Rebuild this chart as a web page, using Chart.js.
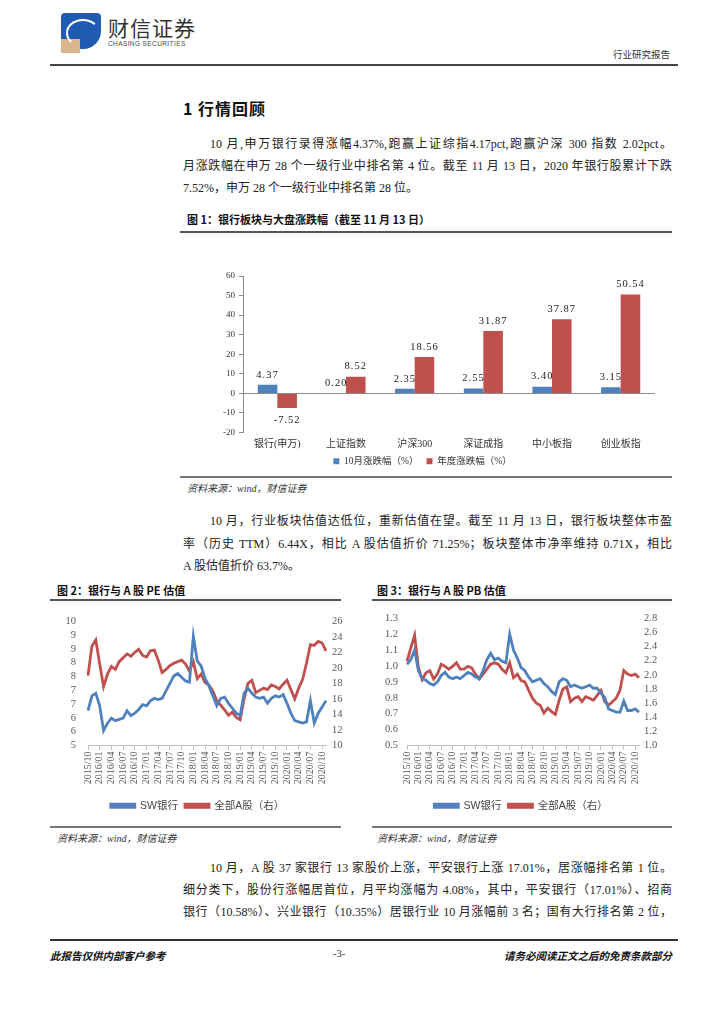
<!DOCTYPE html>
<html>
<head>
<meta charset="utf-8">
<script src="https://cdn.jsdelivr.net/npm/chart.js@4.4.0/dist/chart.umd.min.js"></script>
<style>
  body { margin: 0; background: #fff; }
  #page { position: relative; width: 724px; height: 1024px; overflow: hidden;
          font-family: "Liberation Serif", "Noto Sans CJK SC", serif; color: #222; }
  .t { position: absolute; white-space: nowrap; }
  .rule { position: absolute; }
  .p { position: absolute; font-size: 12px; height: 16px; line-height: 16px;
       text-align: justify; text-align-last: justify; }
  .p.last { text-align-last: left; }
  .cap { position: absolute; white-space: nowrap; font-family: "Noto Sans CJK SC", sans-serif;
         font-weight: bold; font-size: 11px; color: #111; }
  .src { position: absolute; white-space: nowrap; font-style: italic; font-size: 10px; color: #333; }
  canvas { position: absolute; }
</style>
</head>
<body>
<div id="page">
  <!-- header -->
  <div style="position:absolute;left:61px;top:13px;width:40px;height:36px;background:#1f5bb0;border-radius:4px 4px 18px 4px;"></div>
  <div style="position:absolute;left:61px;top:39px;width:19px;height:14px;background:#d9b48f;"></div>
  <div style="position:absolute;left:66px;top:19px;width:30px;height:24px;border-radius:50%;border:2px solid #fff;border-color:#fff transparent transparent #fff;"></div>
  <div class="t" style="left:108px;top:12px;font-family:'Noto Sans CJK SC';font-size:21px;color:#333;letter-spacing:1px;">财信证券</div>
  <div class="t" style="left:108px;top:40px;font-family:'Liberation Sans';font-size:6.5px;color:#444;letter-spacing:0.4px;">CHASING SECURITIES</div>
  <div class="t" style="left:613px;top:47px;font-family:'Noto Sans CJK SC';font-size:9.5px;color:#333;">行业研究报告</div>
  <div class="rule" style="left:50px;top:64px;width:628px;height:2px;background:#444;"></div>

  <div class="t" style="left:183px;top:96px;font-family:'Noto Sans CJK SC';font-weight:bold;font-size:16px;color:#111;letter-spacing:1px;">1 行情回顾</div>

  <div class="p" style="left:210px;top:136px;width:462px;">10 月,申万银行录得涨幅4.37%,跑赢上证综指4.17pct,跑赢沪深 300 指数 2.02pct。</div>
  <div class="p" style="left:183px;top:158px;width:489px;">月涨跌幅在申万 28 个一级行业中排名第 4 位。截至 11 月 13 日，2020 年银行股累计下跌</div>
  <div class="p last" style="left:183px;top:180px;width:489px;">7.52%，申万 28 个一级行业中排名第 28 位。</div>

  <div class="cap" style="left:187px;top:211px;">图 1：银行板块与大盘涨跌幅（截至 11 月 13 日）</div>
  <div class="rule" style="left:180px;top:231px;width:492px;height:2px;background:#555;"></div>
  <canvas id="barChart" width="490" height="218" style="left:190px;top:258px;"></canvas>
  <div class="rule" style="left:180px;top:476px;width:492px;height:2px;background:#777;"></div>
  <div class="src" style="left:187px;top:480px;">资料来源：wind，财信证券</div>

  <div class="p" style="left:210px;top:513px;width:462px;">10 月，行业板块估值达低位，重新估值在望。截至 11 月 13 日，银行板块整体市盈</div>
  <div class="p" style="left:183px;top:536px;width:489px;">率（历史 TTM）6.44X，相比 A 股估值折价 71.25%；板块整体市净率维持 0.71X，相比</div>
  <div class="p last" style="left:183px;top:558px;width:489px;">A 股估值折价 63.7%。</div>

  <div class="cap" style="left:57px;top:582px;">图 2：银行与 A 股 PE 估值</div>
  <div class="cap" style="left:377px;top:582px;">图 3：银行与 A 股 PB 估值</div>
  <div class="rule" style="left:50px;top:599px;width:291px;height:2px;background:#555;"></div>
  <div class="rule" style="left:372px;top:599px;width:300px;height:2px;background:#555;"></div>
  <canvas id="peChart" width="295" height="222" style="left:50px;top:603px;"></canvas>
  <canvas id="pbChart" width="302" height="222" style="left:370px;top:603px;"></canvas>
  <div class="rule" style="left:50px;top:826px;width:291px;height:2px;background:#777;"></div>
  <div class="rule" style="left:372px;top:826px;width:300px;height:2px;background:#777;"></div>
  <div class="src" style="left:57px;top:830px;">资料来源：wind，财信证券</div>
  <div class="src" style="left:377px;top:830px;">资料来源：wind，财信证券</div>

  <div class="p" style="left:210px;top:860px;width:462px;">10 月，A 股 37 家银行 13 家股价上涨，平安银行上涨 17.01%，居涨幅排名第 1 位。</div>
  <div class="p" style="left:183px;top:882px;width:489px;">细分类下，股份行涨幅居首位，月平均涨幅为 4.08%，其中，平安银行（17.01%）、招商</div>
  <div class="p" style="left:183px;top:904px;width:489px;">银行（10.58%）、兴业银行（10.35%）居银行业 10 月涨幅前 3 名；国有大行排名第 2 位，</div>

  <div class="rule" style="left:50px;top:939px;width:628px;height:2px;background:#333;"></div>
  <div class="t" style="left:50px;top:948px;font-family:'Noto Sans CJK SC';font-weight:bold;font-style:italic;font-size:10.5px;color:#111;">此报告仅供内部客户参考</div>
  <div class="t" style="left:333px;top:948px;font-size:10.5px;color:#333;">-3-</div>
  <div class="t" style="right:52px;top:948px;font-family:'Noto Sans CJK SC';font-weight:bold;font-style:italic;font-size:10.5px;color:#111;">请务必阅读正文之后的免责条款部分</div>
</div>

<script>
// figure 1: 银行板块与大盘涨跌幅
const barCategories = ['银行(申万)', '上证指数', '沪深300', '深证成指', '中小板指', '创业板指'];
const octChange = [4.37, 0.20, 2.35, 2.55, 3.40, 3.15];
const yearChange = [-7.52, 8.52, 18.56, 31.87, 37.87, 50.54];

// figures 2 and 3: monthly readings 2015/10 - 2020/11
const months = [
  '2015/10', '2015/11', '2015/12',
  '2016/01', '2016/02', '2016/03', '2016/04', '2016/05', '2016/06', '2016/07', '2016/08', '2016/09', '2016/10', '2016/11', '2016/12',
  '2017/01', '2017/02', '2017/03', '2017/04', '2017/05', '2017/06', '2017/07', '2017/08', '2017/09', '2017/10', '2017/11', '2017/12',
  '2018/01', '2018/02', '2018/03', '2018/04', '2018/05', '2018/06', '2018/07', '2018/08', '2018/09', '2018/10', '2018/11', '2018/12',
  '2019/01', '2019/02', '2019/03', '2019/04', '2019/05', '2019/06', '2019/07', '2019/08', '2019/09', '2019/10', '2019/11', '2019/12',
  '2020/01', '2020/02', '2020/03', '2020/04', '2020/05', '2020/06', '2020/07', '2020/08', '2020/09', '2020/10', '2020/11'
];
const peBank = [
  6.4, 7.0, 7.1,
  6.6, 5.6, 5.9, 6.1, 6.0, 6.05, 6.1, 6.4, 6.2, 6.3, 6.45, 6.65,
  6.6, 6.8, 6.9, 6.85, 6.9, 7.2, 7.5, 7.8, 7.9, 7.75, 7.6, 7.55,
  9.4, 8.4, 8.2, 7.7, 7.4, 7.0, 6.6, 6.9, 6.95, 6.7, 6.5, 6.3,
  6.2, 7.1, 7.3, 7.1, 6.95, 6.9, 6.95, 6.7, 6.9, 7.0, 6.95, 7.05,
  6.7, 6.3, 6.0, 5.95, 5.9, 5.95, 6.8, 5.9, 6.3, 6.55, 6.8
];
const peAll = [
  19.0, 22.8, 23.6,
  20.5, 17.6, 19.2, 20.2, 19.8, 20.8, 21.3, 21.8, 21.5, 22.0, 22.4, 21.6,
  21.4, 22.2, 22.3, 21.0, 19.4, 19.8, 20.3, 20.6, 20.8, 21.0, 20.5, 19.6,
  20.8, 18.6, 19.2, 18.1, 17.8, 17.0, 15.8, 15.2, 14.6, 13.9, 14.3, 13.6,
  13.3, 16.0, 18.0, 18.4, 16.8, 17.1, 17.4, 17.2, 17.8, 17.6, 17.3, 17.9,
  18.4, 17.2, 16.0, 17.4, 18.5, 20.6, 23.0, 22.9, 23.4, 23.2, 22.2
];
const pbBank = [
  1.01, 1.04, 1.10,
  0.97, 0.92, 0.91, 0.89, 0.88, 0.90, 0.94, 0.96, 0.93, 0.92, 0.93, 0.92,
  0.94, 0.96, 0.95, 0.93, 0.92, 0.97, 1.04, 1.08, 1.04, 1.05, 1.03, 1.02,
  1.20, 1.10, 1.05, 0.99, 0.97, 0.93, 0.90, 0.91, 0.92, 0.89, 0.87, 0.84,
  0.82, 0.90, 0.92, 0.91, 0.87, 0.88, 0.87, 0.86, 0.87, 0.88, 0.86, 0.86,
  0.83, 0.80, 0.73, 0.72, 0.71, 0.71, 0.78, 0.72, 0.72, 0.73, 0.71
];
const pbAll = [
  2.19, 2.38, 2.56,
  2.10, 1.93, 2.03, 2.06, 1.94, 2.01, 2.15, 2.12, 2.08, 2.12, 2.17, 2.08,
  2.08, 2.12, 2.10, 2.01, 1.94, 2.01, 2.08, 2.15, 2.17, 2.15, 2.08, 2.03,
  2.17, 1.96, 2.01, 1.92, 1.90, 1.78, 1.67, 1.60, 1.57, 1.46, 1.53, 1.48,
  1.44, 1.64, 1.80, 1.83, 1.62, 1.67, 1.69, 1.62, 1.69, 1.67, 1.64, 1.71,
  1.78, 1.62, 1.57, 1.62, 1.67, 1.78, 2.06, 2.01, 1.99, 2.01, 1.96
];

const BLUE = '#4F81BD';
const RED = '#C0504D';
const SERIF = '"Liberation Serif", "Noto Sans CJK SC", serif';

// value labels over / under each bar
const barValueLabels = {
  id: 'barValueLabels',
  afterDatasetsDraw(chart) {
    const ctx = chart.ctx;
    ctx.save();
    ctx.font = '10.5px "Liberation Serif"';
    ctx.letterSpacing = '1px';
    ctx.fillStyle = '#222';
    ctx.textAlign = 'center';
    ctx.textBaseline = 'middle';
    chart.data.datasets.forEach((ds, i) => {
      chart.getDatasetMeta(i).data.forEach((bar, j) => {
        const v = ds.data[j];
        const y = v >= 0 ? bar.y - 10 : bar.y + 12;
        ctx.fillText(v.toFixed(2), bar.x, y);
      });
    });
    ctx.restore();
  }
};

new Chart(document.getElementById('barChart'), {
  type: 'bar',
  data: {
    labels: barCategories,
    datasets: [
      { label: '10月涨跌幅（%）', data: octChange, backgroundColor: BLUE },
      { label: '年度涨跌幅（%）', data: yearChange, backgroundColor: RED }
    ]
  },
  options: {
    responsive: false,
    animation: false,
    categoryPercentage: 0.57,
    barPercentage: 1.0,
    layout: { padding: { top: 18, right: 25, left: 0, bottom: 0 } },
    plugins: {
      legend: {
        position: 'bottom',
        labels: { boxWidth: 6, boxHeight: 6, padding: 8, color: '#333',
                  font: { size: 9.5, family: SERIF } }
      },
      tooltip: { enabled: false }
    },
    scales: {
      x: {
        grid: { display: false, drawTicks: false },
        border: { display: false },
        ticks: { color: '#333', font: { size: 10, family: SERIF }, padding: 6 },
        afterFit(scale) { scale.height = 16; }
      },
      y: {
        min: -20, max: 60,
        ticks: { stepSize: 10, color: '#333', font: { size: 9, family: SERIF }, padding: 4 },
        grid: {
          color: ctx => (ctx.tick && ctx.tick.value === 0 ? '#8c8c8c' : 'rgba(0,0,0,0)'),
          tickColor: '#8c8c8c', tickLength: 4, lineWidth: 1
        },
        border: { color: '#8c8c8c' },
        afterFit(scale) { scale.width = 53; }
      }
    }
  },
  plugins: [barValueLabels]
});

// figures 2 and 3 share the same layout
function valuationChart(id, bank, all, left, right, leftW, rightW, leftPad, rightPad) {
  const tickFont = { size: 10.5, family: SERIF };
  return new Chart(document.getElementById(id), {
    type: 'line',
    data: {
      labels: months,
      datasets: [
        { label: 'SW银行', data: bank, borderColor: BLUE, backgroundColor: BLUE,
          borderWidth: 2.8, pointRadius: 0, tension: 0, yAxisID: 'y' },
        { label: '全部A股（右）', data: all, borderColor: RED, backgroundColor: RED,
          borderWidth: 2.8, pointRadius: 0, tension: 0, yAxisID: 'y1' }
      ]
    },
    options: {
      responsive: false,
      animation: false,
      layout: { padding: { top: 13, bottom: 4 } },
      plugins: {
        legend: {
          position: 'bottom',
          labels: { boxWidth: 24, boxHeight: 3, padding: 7, color: '#444',
                    font: { size: 10.5, family: '"Liberation Sans", "Noto Sans CJK SC", sans-serif' } }
        },
        tooltip: { enabled: false }
      },
      scales: {
        x: {
          grid: { display: true, drawOnChartArea: false, tickLength: 4,
                  color: c => (c.index % 3 === 0 ? '#bfbfbf' : 'rgba(0,0,0,0)') },
          border: { color: '#bfbfbf' },
          ticks: {
            autoSkip: false, maxRotation: 90, minRotation: 90, padding: 2,
            color: '#595959', font: { size: 10, family: SERIF },
            callback: (v, i) => (i % 3 === 0 ? months[i] : '')
          },
          afterFit(scale) { scale.height = 48; }
        },
        y: {
          position: 'left',
          min: left.min, max: left.max,
          grid: { display: false, drawTicks: false },
          border: { display: false },
          ticks: Object.assign({ autoSkip: false, color: '#595959', font: tickFont, padding: leftPad }, left.ticks),
          afterFit(scale) { scale.width = leftW; }
        },
        y1: {
          position: 'right',
          min: right.min, max: right.max,
          grid: { display: false, drawTicks: false },
          border: { display: false },
          ticks: Object.assign({ autoSkip: false, color: '#595959', font: tickFont, padding: rightPad }, right.ticks),
          afterFit(scale) { scale.width = rightW; }
        }
      }
    }
  });
}

valuationChart('peChart', peBank, peAll,
  { min: 5, max: 10, ticks: { count: 10, callback: v => Math.round(v) } },
  { min: 10, max: 26, ticks: { stepSize: 2 } },
  38, 19, 12, 6);

valuationChart('pbChart', pbBank, pbAll,
  { min: 0.5, max: 1.3, ticks: { stepSize: 0.1, callback: v => v.toFixed(1) } },
  { min: 1.0, max: 2.8, ticks: { stepSize: 0.2, callback: v => v.toFixed(1) } },
  37, 33, 9, 5);
</script>
</body>
</html>
